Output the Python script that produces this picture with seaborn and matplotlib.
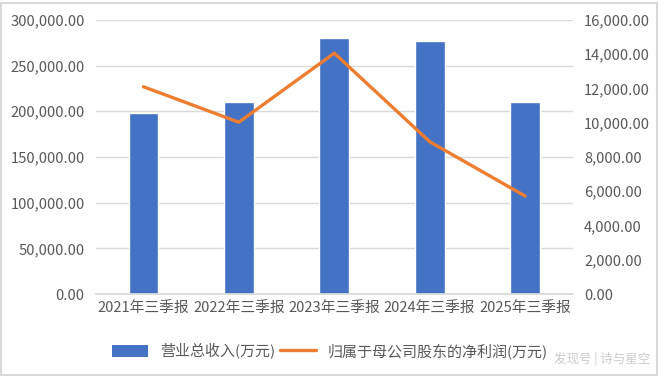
import matplotlib
matplotlib.use("Agg")
import matplotlib.pyplot as plt
import seaborn as sns
import pandas as pd
from matplotlib.patches import Patch
from matplotlib.lines import Line2D
from matplotlib.ticker import FuncFormatter, MultipleLocator

categories = ["2021年三季报", "2022年三季报", "2023年三季报", "2024年三季报", "2025年三季报"]
revenue = [197800, 209800, 280600, 277300, 209800]
net_profit = [12100, 10030, 14060, 8890, 5720]
bar_label = "营业总收入(万元)"
line_label = "归属于母公司股东的净利润(万元)"

sns.set_theme(style="white")
plt.rcParams['font.family'] = ['Noto Sans CJK SC', 'DejaVu Sans']

df = pd.DataFrame({"cat": categories, "rev": revenue, "np": net_profit})

fig = plt.figure(figsize=(6.6, 3.76), dpi=100)
ax = fig.add_axes([0.145, 0.218, 0.723, 0.729])
bar_color = "#4472C4"
line_color = "#ED7D31"
text_color = "#595959"
fs = 10.6

sns.barplot(data=df, x="cat", y="rev", color=bar_color, width=0.31, ax=ax, saturation=1)
ax.set_ylim(0, 300000)
ax.yaxis.set_major_locator(MultipleLocator(50000))
ax.yaxis.set_major_formatter(FuncFormatter(lambda v, p: f"{v:,.2f}"))
ax.grid(axis="y", color="#D9D9D9", linewidth=1)
ax.set_axisbelow(True)
ax.set_xlabel("")
ax.set_ylabel("")
for s in ["top", "right", "left"]:
    ax.spines[s].set_visible(False)
ax.spines["bottom"].set_color("#D9D9D9")
ax.tick_params(axis="both", length=0, colors=text_color, labelsize=fs)
ax.tick_params(axis="x", pad=5)
ax.tick_params(axis="y", pad=8)

ax2 = ax.twinx()
sns.lineplot(data=df, x="cat", y="np", color=line_color, linewidth=2.4, ax=ax2, sort=False)
ax2.set_ylim(0, 16000)
ax2.yaxis.set_major_locator(MultipleLocator(2000))
ax2.yaxis.set_major_formatter(FuncFormatter(lambda v, p: f"{v:,.2f}"))
ax2.set_ylabel("")
ax2.grid(False)
for s in ["top", "right", "left", "bottom"]:
    ax2.spines[s].set_visible(False)
ax2.tick_params(axis="y", length=0, colors=text_color, labelsize=fs, pad=8)
ax.set_xlim(-0.5, 4.5)

handles = [Patch(facecolor=bar_color, edgecolor="none"),
           Line2D([0], [0], color=line_color, linewidth=2.4)]
fig.legend(handles, [bar_label, line_label], loc="center", bbox_to_anchor=(0.5, 0.066),
           ncol=2, frameon=False, fontsize=10.8, labelcolor=text_color,
           handlelength=2.4, handleheight=0.9, columnspacing=0.3, handletextpad=0.8)

fig.text(0.985, 0.045, "发现号 | 诗与星空", ha="right", va="center", fontsize=9,
         color="#CCCCCC")

border = plt.Rectangle((0.002, 0.003), 0.993, 0.99, transform=fig.transFigure,
                       fill=False, edgecolor="#D9D9D9", linewidth=1.5)
fig.patches.append(border)

fig.savefig("out.png", dpi=100)
